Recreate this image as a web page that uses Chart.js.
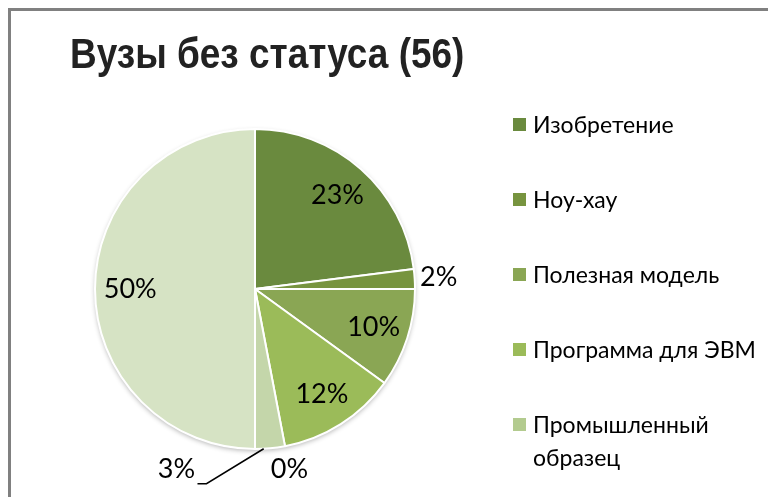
<!DOCTYPE html>
<html>
<head>
<meta charset="utf-8">
<script src="https://cdn.jsdelivr.net/npm/chart.js@4/dist/chart.umd.min.js"></script>
<style>
  html, body { margin: 0; padding: 0; background: #fff; overflow: hidden; }
  #wrap { position: relative; width: 768px; height: 497px; overflow: hidden; }
  #frame { position: absolute; left: 8px; top: 8px; right: 0; bottom: 0;
           border-top: 3px solid #808080; border-left: 3px solid #808080; }
  #pie { position: absolute; left: 0; top: 0; }
  #legend { position: absolute; left: 513px; top: 108px; width: 245px;
            font: 23px Lato, sans-serif; color: #000; }
  .item { display: flex; align-items: flex-start; margin-bottom: 42px; line-height: 33px; }
  .box { width: 13px; height: 13px; margin: 10px 7px 0 0; flex: none; }
</style>
</head>
<body>
<div id="wrap">
  <div id="frame"></div>
  <canvas id="pie" width="768" height="497"></canvas>
  <div id="legend"></div>
</div>
<script>
const TITLE = "Вузы без статуса (56)";
const labels = ["Изобретение", "Ноу-хау", "Полезная модель", "Программа для ЭВМ",
                "Промышленный образец", "Товарный знак", "Прочее"];
const values = [23, 2, 10, 12, 0, 3, 50];
const colors = ["#6a8a3e", "#77943f", "#8aa654", "#9bbb59", "#b3cb8f", "#c4d6aa", "#d6e3c4"];

// title is a bit condensed in the original, so draw it by hand
const narrowTitle = {
  id: 'narrowTitle',
  afterDraw(chart){
    const ctx = chart.ctx;
    ctx.save();
    ctx.font = 'bold 42px "Liberation Sans"';
    ctx.fillStyle = '#222';
    ctx.textBaseline = 'alphabetic';
    ctx.translate(70, 68);
    ctx.scale(0.88, 1);
    ctx.fillText(TITLE, 0, 0);
    ctx.restore();
  }
};

// soft shadow under the pie
const pieShadow = {
  id: 'pieShadow',
  beforeDatasetsDraw(chart){
    const arc = chart.getDatasetMeta(0).data[0];
    const ctx = chart.ctx;
    ctx.save();
    ctx.shadowColor = 'rgba(0,0,0,0.3)';
    ctx.shadowBlur = 5;
    ctx.shadowOffsetY = 2;
    ctx.fillStyle = '#fff';
    ctx.beginPath();
    ctx.arc(arc.x, arc.y, arc.outerRadius, 0, Math.PI*2);
    ctx.fill();
    ctx.restore();
  }
};

// percent labels, small slices go outside
const pieLabels = {
  id: 'pieLabels',
  afterDatasetsDraw(chart){
    const ctx = chart.ctx;
    const meta = chart.getDatasetMeta(0);
    const data = chart.data.datasets[0].data;
    const total = data.reduce((a, b) => a + b, 0);
    ctx.save();
    ctx.font = '27px Lato';
    ctx.fillStyle = '#000';
    ctx.strokeStyle = '#000';
    ctx.textAlign = 'center';
    ctx.textBaseline = 'middle';
    let prev = null;
    meta.data.forEach((arc, i) => {
      const p = arc.getProps(['x', 'y', 'startAngle', 'endAngle', 'outerRadius'], true);
      const mid = (p.startAngle + p.endAngle) / 2;
      const share = data[i] / total;
      const text = Math.round(share * 100) + '%';
      if (share >= 0.05) {
        const r = p.outerRadius * 0.78;
        ctx.fillText(text, p.x + Math.cos(mid) * r, p.y + Math.sin(mid) * r);
        return;
      }
      const r = p.outerRadius + 24;
      let lx = p.x + Math.cos(mid) * r;
      let ly = p.y + Math.sin(mid) * r;
      if (prev && Math.hypot(lx - prev.x, ly - prev.y) < 45) {
        lx = prev.x - 113;
        ly = prev.y;
        ctx.lineWidth = 1.5;
        ctx.beginPath();
        ctx.moveTo(p.x + Math.cos(mid + 0.04) * p.outerRadius, p.y + Math.sin(mid + 0.04) * p.outerRadius);
        ctx.lineTo(lx + 30, ly + 14);
        ctx.lineTo(lx + 21, ly + 14);
        ctx.stroke();
      }
      ctx.fillText(text, lx, ly);
      prev = { x: lx, y: ly };
    });
    ctx.restore();
  }
};

function buildLegend(){
  const box = document.getElementById('legend');
  labels.forEach((label, i) => {
    const item = document.createElement('div');
    item.className = 'item';
    item.innerHTML = '<span class="box" style="background:' + colors[i] + '"></span><span>' + label + '</span>';
    box.appendChild(item);
  });
}

function createChart(){
  return new Chart(document.getElementById('pie'), {
    type: 'pie',
    data: {
      labels: labels,
      datasets: [{
        data: values,
        backgroundColor: colors,
        borderColor: '#fff',
        borderWidth: 2
      }]
    },
    options: {
      responsive: false,
      animation: false,
      layout: { padding: { left: 70, right: 328, top: 128, bottom: 47 } },
      plugins: {
        legend: { display: false },
        tooltip: { enabled: false },
        title: { display: false }
      }
    },
    plugins: [pieShadow, pieLabels, narrowTitle]
  });
}

buildLegend();
const myChart = createChart();
</script>
</body>
</html>
